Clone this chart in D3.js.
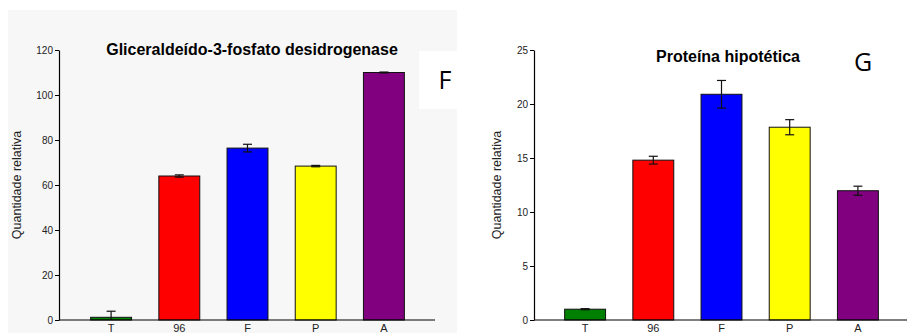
<!DOCTYPE html>
<html>
<head>
<meta charset="utf-8">
<script src="https://cdn.jsdelivr.net/npm/d3@7"></script>
<style>
  body { margin: 0; background: #fff; }
  svg { display: block; }
</style>
</head>
<body>
<div id="chart"></div>
<script>
// data
var categories = ["T", "96", "F", "P", "A"];
var barColors = ["#008000", "#ff0000", "#0000ff", "#ffff00", "#800080"];

var gapdhValues = [1.2, 64.0, 76.4, 68.4, 110.0];
var gapdhErrors = [2.7, 0.5, 1.7, 0.3, 0.2];
var gapdhTicks = [0, 20, 40, 60, 80, 100, 120];

var hypoValues = [1.0, 14.8, 20.9, 17.85, 11.97];
var hypoErrors = [0.05, 0.36, 1.28, 0.7, 0.42];
var hypoTicks = [0, 5, 10, 15, 20, 25];

var svgWidth = 907;
var svgHeight = 333;

var svg = d3.select("#chart")
  .append("svg")
  .attr("width", svgWidth)
  .attr("height", svgHeight);

// grey background of the left panel + white patch behind the letter
svg.append("rect")
  .attr("x", 8).attr("y", 10)
  .attr("width", 449).attr("height", 323)
  .attr("fill", "#f7f7f7");
svg.append("rect")
  .attr("x", 419).attr("y", 51)
  .attr("width", 38).attr("height", 58)
  .attr("fill", "#ffffff");

function drawPanel(opt) {
  var g = svg.append("g");

  // one row per bar
  var rows = categories.map((c, i) => ({
    cat: c,
    value: opt.values[i],
    err: opt.errors[i],
    color: barColors[i]
  }));

  var y = d3.scaleLinear()
    .domain([0, opt.ymax])
    .range([320, 50]);

  var x = d3.scaleBand()
    .domain(categories)
    .range(opt.xRange)
    .paddingInner(0.4)
    .paddingOuter(0.2);

  var cx = d => x(d.cat) + x.bandwidth() / 2;

  // y axis
  var yAxis = d3.axisLeft(y)
    .tickValues(opt.ticks)
    .tickSize(4)
    .tickSizeOuter(0);

  var ya = g.append("g")
    .attr("transform", `translate(${opt.axisX},0)`)
    .call(yAxis);
  ya.select(".domain").attr("stroke", "#000").attr("stroke-width", 1.2);
  ya.selectAll(".tick line").attr("stroke", "#000");
  ya.selectAll(".tick text")
    .attr("fill", "#222")
    .style("font-family", "'Liberation Sans', Arial, sans-serif")
    .style("font-size", "10px")
    .attr("x", -6);

  // bars
  g.selectAll("rect.bar")
    .data(rows)
    .enter()
    .append("rect")
    .attr("class", "bar")
    .attr("x", d => x(d.cat))
    .attr("y", d => y(d.value))
    .attr("width", x.bandwidth())
    .attr("height", d => y(0) - y(d.value))
    .attr("fill", d => d.color)
    .attr("stroke", "#111")
    .attr("stroke-width", 1);

  // error bars
  var eb = g.selectAll("g.err")
    .data(rows)
    .enter()
    .append("g")
    .attr("class", "err")
    .attr("stroke", "#111")
    .attr("stroke-width", 1.2);

  eb.append("line")
    .attr("x1", cx)
    .attr("x2", cx)
    .attr("y1", d => y(Math.max(0, d.value - d.err)))
    .attr("y2", d => y(d.value + d.err));
  eb.append("line")
    .attr("x1", d => cx(d) - 4.5)
    .attr("x2", d => cx(d) + 4.5)
    .attr("y1", d => y(d.value + d.err))
    .attr("y2", d => y(d.value + d.err));
  eb.filter(d => d.value - d.err > 0)
    .append("line")
    .attr("x1", d => cx(d) - 4.5)
    .attr("x2", d => cx(d) + 4.5)
    .attr("y1", d => y(d.value - d.err))
    .attr("y2", d => y(d.value - d.err));

  // x axis baseline
  g.append("line")
    .attr("x1", opt.axisX).attr("x2", opt.baseEnd)
    .attr("y1", y(0)).attr("y2", y(0))
    .attr("stroke", "#000")
    .attr("stroke-width", 1.2);

  // category labels
  g.selectAll("text.cat")
    .data(rows)
    .enter()
    .append("text")
    .attr("class", "cat")
    .attr("x", cx)
    .attr("y", 332)
    .attr("text-anchor", "middle")
    .attr("fill", "#222")
    .style("font-family", "'Liberation Sans', Arial, sans-serif")
    .style("font-size", "11px")
    .text(d => d.cat);

  // y label
  g.append("text")
    .attr("transform", `translate(${opt.labelX},185) rotate(-90)`)
    .attr("text-anchor", "middle")
    .attr("fill", "#222")
    .style("font-family", "'Liberation Sans', Arial, sans-serif")
    .style("font-size", "12.5px")
    .text("Quantidade relativa");

  // title
  g.append("text")
    .attr("x", opt.titleX)
    .attr("y", opt.titleY)
    .attr("text-anchor", "middle")
    .attr("fill", "#000")
    .style("font-family", "'Liberation Sans', Arial, sans-serif")
    .style("font-size", "16px")
    .style("font-weight", "bold")
    .text(opt.title);

  // panel letter
  g.append("text")
    .attr("x", opt.letterX)
    .attr("y", opt.letterY)
    .attr("text-anchor", "middle")
    .attr("fill", "#000")
    .style("font-family", "'Open Sans', sans-serif")
    .style("font-size", "25px")
    .text(opt.letter);
}

drawPanel({
  values: gapdhValues,
  errors: gapdhErrors,
  ticks: gapdhTicks,
  ymax: 120,
  axisX: 59,
  baseEnd: 435,
  xRange: [77, 418],
  labelX: 21,
  title: "Gliceraldeído-3-fosfato desidrogenase",
  titleX: 252,
  titleY: 55,
  letter: "F",
  letterX: 445,
  letterY: 89
});

drawPanel({
  values: hypoValues,
  errors: hypoErrors,
  ticks: hypoTicks,
  ymax: 25,
  axisX: 534,
  baseEnd: 907,
  xRange: [551, 892],
  labelX: 501,
  title: "Proteína hipotética",
  titleX: 728,
  titleY: 62,
  letter: "G",
  letterX: 863,
  letterY: 71
});
</script>
</body>
</html>
